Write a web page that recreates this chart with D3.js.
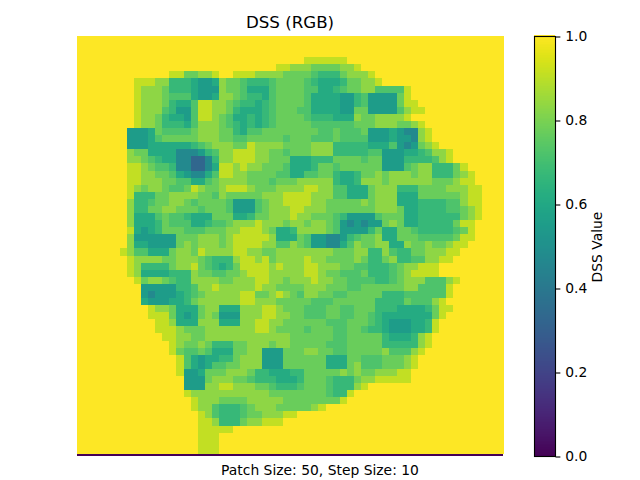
<!DOCTYPE html>
<html><head><meta charset="utf-8">
<script src="https://cdn.jsdelivr.net/npm/d3@7"></script>
<style>
html,body{margin:0;padding:0;background:#fff}
svg{display:block}
text{font-family:"DejaVu Sans";fill:#000}
</style></head><body>
<svg id="c" width="640" height="480"></svg>
<script>
// DSS value for each code 0..9 used in the grid rows
const levelValues = [0.33,0.47,0.55,0.61,0.67,0.72,0.77,0.83,0.91,1.0];
const colorbarTicks = [0,0.2,0.4,0.6,0.8,1.0];
const titleText = "DSS (RGB)";
const captionText = "Patch Size: 50, Step Size: 10";
const colorbarLabel = "DSS Value";
const bottomRowValue = 0;
// coarse read of the map, one string per row, ten columns per group; missing cells are 1.0
const gridRows = [
"","","",
"9999999999 9999999999 9999999999 9988888899",
"9999999999 9999999999 9999999988 7776666778",
"9999999999 9998866778 9988877776 6665444677 7899999999",
"9999999988 8774443223 7665444566 6654333466 7789999999",
"9999999987 7764443222 7665333566 6655334566 7755558999",
"9999999987 7765553223 7765443566 6653333224 5222268999",
"9999999987 7764335887 7654434566 6653333224 5222268899",
"9999999987 7754225887 7643334566 6553333226 6222257889",
"9999999987 7643325887 6533434566 6654443337 6677778999",
"9999999987 7644435777 6543434566 6665555556 6677766789",
"9999999222 3655556777 6643556666 6666556555 6222321178",
"9999999222 3566666777 6655666665 6665556555 5222322178",
"9999999222 3333334567 7766877776 6667774444 4333521267 8999999999",
"9999999766 3333111245 7788877665 6667774444 4552223345 7789999999",
"9999999776 5433110014 7788877666 3334446666 5662224444 5789999999",
"9999999887 6554110013 8878776665 3334665666 6662225677 4446899999",
"9999999887 7665321135 8877666655 3355664334 6676777677 4446789999",
"9999999887 7766553356 7777666566 6777774334 7776777777 6667889999",
"9999999876 7765568766 7888766677 7788775533 3677744466 6677788999",
"9999999844 4667777665 7666667778 8887775533 3677733366 6666788999",
"9999999744 5667765666 6522256778 8887766666 7677733344 4455788999",
"9999999744 6677666566 6522256777 8877766666 6677763344 4455678999",
"9999999733 3565543336 6633466777 8776665422 2256663344 4444678999",
"9999999733 3465553345 5677787776 7767765212 1226763344 4446889999",
"9999999832 3466655566 6778887633 4777765222 2463366544 4445689999",
"9999999722 2222666777 6788888733 3652211245 6673366655 5556889999",
"9999999733 2222676777 6788887755 7652211357 6677337667 6678899999",
"9999998755 3336776877 7788776677 7777776667 7447544667 7788999999",
"9999999877 7766777654 4478878677 7787766667 6446744557 7889999999",
"9999999874 4446778654 3468888787 7788777665 5444567788 8999999999",
"9999999873 3334447665 5667888777 7788766555 6444567888 8999999999",
"9999999986 7765447777 6677788776 7778776655 5544567775 5578999999",
"9999999992 2222445778 7777787766 6677766655 6666667755 5589999999",
"9999999992 1222345677 7778866787 6577665566 6664445555 5589999999",
"9999999993 2223346777 7778877766 6665556666 6644446555 7899999999",
"9999999999 8776333677 3337778876 6655566556 6644433334 6889999999",
"9999999999 8886323676 2227778877 6655566556 6543333333 6899999999",
"9999999999 9887333777 3337788776 6666655566 6543222334 8999999999",
"9999999999 9888766677 7777788766 6656665566 5443222334 8999999999",
"9999999999 9988776677 7777777777 6666665566 6664333478",
"9999999999 9998766764 4466777677 6666655566 6664444478",
"9999999999 9998655653 3366772226 6677665566 6667555789",
"9999999999 9999853233 4467772226 6666633366 5556667899",
"9999999999 9999853235 5667772226 6666633367 5556667899",
"9999999999 9999822366 6777644333 4466666767 6677788999",
"9999999999 9999922267 7766544433 3466654446 7788888999",
"9999999999 9999922277 8877766544 4566654447 8999999999",
"9999999999 9999987777 7777777666 6666654489",
"9999999999 9999998777 6666777776 6666666899",
"9999999999 9999998775 4445677766 6667899999",
"9999999999 9999999875 4445667778 8999999999",
"9999999999 9999999887 4446778889",
"9999999999 9999999888 8899999999",
"9999999999 9999999888",
"9999999999 9999999888",
"9999999999 9999999888"
];
const columnCount = 60;

const svg = d3.select("#c");
const color = d3.scaleSequential(d3.interpolateViridis).domain([0,1]);

const cells = [];
gridRows.forEach((r,j)=>{
  const s = r.replace(/ /g,"").padEnd(columnCount,"9");
  d3.range(columnCount).forEach(i=>cells.push({i,j,v:levelValues[+s[i]]}));
});
const x = d3.scaleLinear().domain([0,columnCount]).range([77,503]);
const y = d3.scaleLinear().domain([0,gridRows.length+0.3]).range([36,456]);

const g = svg.append("g").attr("shape-rendering","crispEdges");
g.selectAll("rect.cell").data(cells).join("rect").attr("class","cell")
 .attr("x",d=>x(d.i)).attr("y",d=>y(d.j))
 .attr("width",d=>x(d.i+1)-x(d.i)+0.5).attr("height",d=>y(d.j+1)-y(d.j)+0.5)
 .attr("fill",d=>color(d.v));
g.append("rect").attr("x",x(0)).attr("width",x(columnCount)-x(0))
 .attr("y",y(gridRows.length)).attr("height",y(gridRows.length+0.3)-y(gridRows.length))
 .attr("fill",color(bottomRowValue));

svg.append("text").attr("x",290).attr("y",28).attr("text-anchor","middle")
 .style("font-size","16.67px").text(titleText);
svg.append("text").attr("x",320).attr("y",475).attr("text-anchor","middle")
 .style("font-size","13.89px").text(captionText);

// colour bar
const cb = d3.scaleLinear().domain([0,1]).range([456.5,36.5]);
const steps = d3.range(0,256).map(k=>k/255);
svg.append("g").attr("shape-rendering","crispEdges").selectAll("rect").data(steps).join("rect")
 .attr("x",534).attr("width",21)
 .attr("y",d=>cb(d)-420/256).attr("height",420/256+0.5)
 .attr("fill",d=>color(d));
svg.append("rect").attr("x",534.5).attr("y",36.5).attr("width",21).attr("height",420)
 .attr("fill","none").attr("stroke","#000").attr("stroke-width",1.11);
const ax = svg.append("g").attr("transform","translate(555.5,0)")
 .call(d3.axisRight(cb).tickValues(colorbarTicks).tickFormat(d3.format(".1f")).tickSize(4.86).tickPadding(4.86));
ax.select(".domain").remove();
ax.selectAll("line").attr("stroke","#000").attr("stroke-width",1.11);
ax.selectAll("text").style("font-family","DejaVu Sans").style("font-size","13.89px").attr("fill","#000");
svg.append("text").attr("transform","translate(602,247) rotate(-90)").attr("text-anchor","middle")
 .style("font-size","13.89px").text(colorbarLabel);
</script></body></html>
